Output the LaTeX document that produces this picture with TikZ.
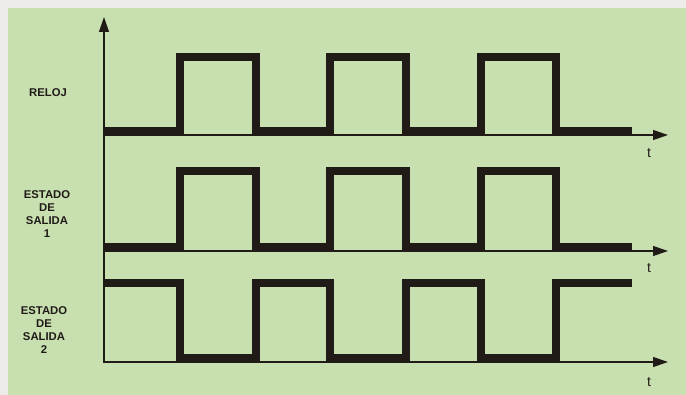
\documentclass[tikz,border=0pt]{standalone}
\usepackage{fontspec}
\setmainfont{Liberation Sans}
\usepackage{xcolor}
\usetikzlibrary{arrows.meta}

\definecolor{paper}{RGB}{238,236,232}
\definecolor{panel}{RGB}{200,224,176}
\definecolor{ink}{RGB}{33,27,24}

\begin{document}
\begin{tikzpicture}[x=1pt, y=-1pt,
  axis/.style={draw=ink, line width=1.2pt, -{Triangle[length=15pt, width=10pt]}},
  signal/.style={draw=ink, line width=8pt, line join=miter},
  rowlabel/.style={font=\fontsize{11.3}{13}\selectfont\bfseries, align=center, text=ink},
  tlabel/.style={font=\fontsize{14}{14}\selectfont, text=ink}
]
  % background
  \useasboundingbox (0,0) rectangle (686,395);
  \fill[paper] (0,0) rectangle (686,395);
  \fill[panel] (8,8) rectangle (686,395);

  % axes
  \coordinate (top) at (104,17);
  \coordinate (bot) at (104,363);
  \coordinate (o1) at (104,135);
  \coordinate (e1) at (668,135);
  \coordinate (o2) at (104,251);
  \coordinate (e2) at (668,251);
  \coordinate (o3) at (104,362);
  \coordinate (e3) at (668,362);

  \draw[axis] (bot) -- (top);
  \draw[axis] (o1) -- (e1);
  \draw[axis] (o2) -- (e2);
  \draw[axis] (o3) -- (e3);

  \node[tlabel] (t1) at (649,153) {t};
  \node[tlabel] (t2) at (649,268) {t};
  \node[tlabel] (t3) at (649,382) {t};

  % labels
  \node[rowlabel] (reloj) at (48,93) {RELOJ};
  \node[rowlabel] (sal1) at (47,214) {ESTADO\\DE\\SALIDA\\1};
  \node[rowlabel] (sal2) at (44,330) {ESTADO\\DE\\SALIDA\\2};

  % signals (row 3 is the inverse)
  \foreach \lo/\hi in {131/57, 247/171, 283/358}
    \draw[signal] (104,\lo) -- (180,\lo) -- (180,\hi) -- (256,\hi) -- (256,\lo)
      -- (330,\lo) -- (330,\hi) -- (406,\hi) -- (406,\lo)
      -- (481,\lo) -- (481,\hi) -- (556,\hi) -- (556,\lo) -- (632,\lo);
\end{tikzpicture}
\end{document}
